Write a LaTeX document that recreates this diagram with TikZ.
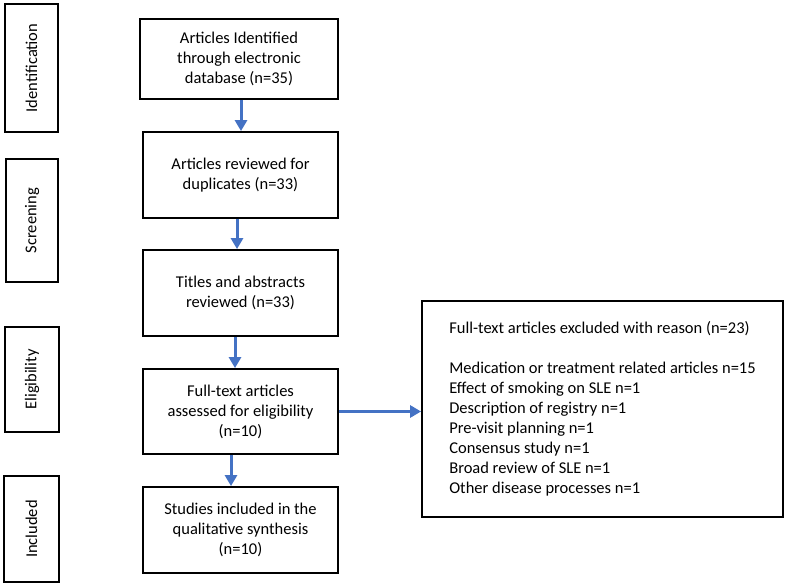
\documentclass[tikz,border=0pt]{standalone}
\usepackage{fontspec}
\setmainfont{Carlito}
\usetikzlibrary{arrows.meta}
\definecolor{arrowblue}{RGB}{68,114,196}
\begin{document}
\begin{tikzpicture}[x=1pt,y=-1pt,
  font=\fontsize{16.5}{20}\selectfont,
  box/.style={draw=black,line width=1.8pt,rectangle,align=center,inner sep=2pt},
  stage/.style={draw=black,line width=1.8pt,rectangle,inner sep=0pt},
  flow/.style={draw=arrowblue,line width=3pt,-{Triangle[width=12pt,length=11pt]}}]
\useasboundingbox (0,0) rectangle (787,585);
% stage boxes
\node[stage,minimum width=53,minimum height=128] (s1) at (31.5,68) {};
\node[rotate=90] at (s1.center) {Identification};
\node[stage,minimum width=52,minimum height=123] (s2) at (32,220.5) {};
\node[rotate=90] at (s2.center) {Screening};
\node[stage,minimum width=54,minimum height=105] (s3) at (32,379.5) {};
\node[rotate=90] at (s3.center) {Eligibility};
\node[stage,minimum width=55,minimum height=106] (s4) at (31.5,529) {};
\node[rotate=90] at (s4.center) {Included};
% main boxes
\node[box,minimum width=198,minimum height=80] (b1) at (239,59) {Articles Identified\\through electronic\\database (n=35)};
\node[box,minimum width=195,minimum height=86] (b2) at (240.5,175) {Articles reviewed for\\duplicates (n=33)};
\node[box,minimum width=195,minimum height=86] (b3) at (240.5,293) {Titles and abstracts\\reviewed (n=33)};
\node[box,minimum width=195,minimum height=85] (b4) at (240.5,411.5) {Full-text articles\\assessed for eligibility\\(n=10)};
\node[box,minimum width=195,minimum height=86] (b5) at (240.5,530) {Studies included in the\\qualitative synthesis\\(n=10)};
\node[box,minimum width=361,minimum height=216,align=left] (ex) at (602.5,409) {Full-text articles excluded with reason (n=23)\\[20pt]
Medication or treatment related articles n=15\\
Effect of smoking on SLE n=1\\
Description of registry n=1\\
Pre-visit planning n=1\\
Consensus study n=1\\
Broad review of SLE n=1\\
Other disease processes n=1};
% arrows
\draw[flow] ([xshift=2pt]b1.south) -- ([xshift=0.5pt]b2.north);
\draw[flow] ([xshift=-3.5pt]b2.south) -- ([xshift=-3.5pt]b3.north);
\draw[flow] ([xshift=-5.5pt]b3.south) -- ([xshift=-5.5pt]b4.north);
\draw[flow] ([xshift=-9.5pt]b4.south) -- ([xshift=-9.5pt]b5.north);
\draw[flow] (b4.east) -- (ex.west |- b4.east);
\end{tikzpicture}
\end{document}
